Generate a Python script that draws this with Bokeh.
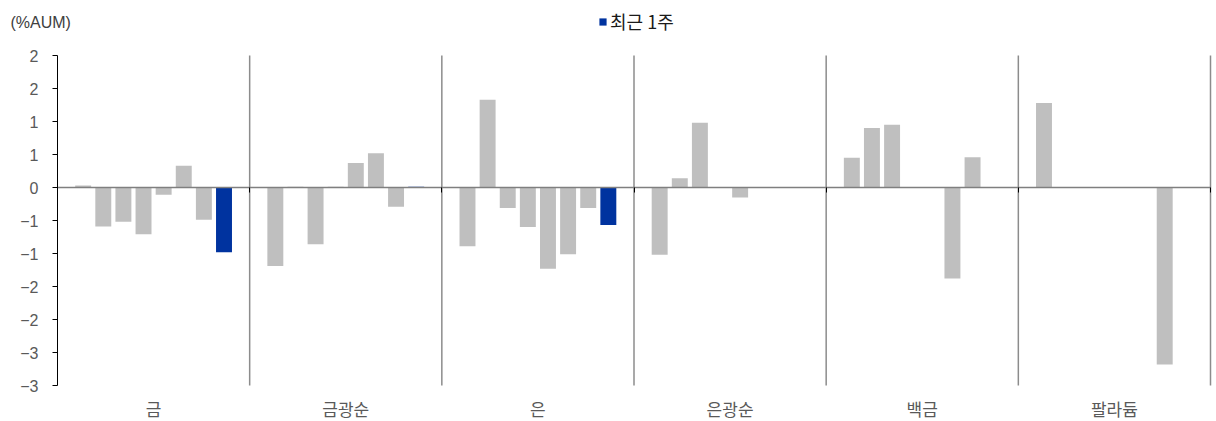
from bokeh.plotting import figure
from bokeh.models import (FixedTicker, LinearAxis, Range1d, Legend, LegendItem,
                          Label, ColumnDataSource)
from bokeh.embed import file_html
from bokeh.resources import INLINE

# ---- data ----
groups = ["금", "금광순", "은", "은광순", "백금", "팔라듐"]
series_names = ["8주 전", "7주 전", "6주 전", "5주 전", "4주 전", "3주 전", "2주 전", "최근 1주"]
week8 = [0.03, -1.19, -0.89, -1.02, 0.45, 1.28]
week7 = [-0.59, 0.01, 1.33, 0.14, 0.90, 0.0]
week6 = [-0.52, -0.86, -0.31, 0.98, 0.95, 0.0]
week5 = [-0.71, 0.01, -0.60, 0.0, 0.0, 0.0]
week4 = [-0.11, 0.37, -1.23, -0.15, 0.0, 0.0]
week3 = [0.33, 0.52, -1.01, 0.0, -1.38, 0.0]
week2 = [-0.49, -0.29, -0.31, 0.0, 0.46, -2.68]
week1 = [-0.98, 0.01, -0.57, 0.0, 0.0, 0.0]
series_values = [week8, week7, week6, week5, week4, week3, week2, week1]
y_min, y_max = -3.0, 2.0
y_tick_values = [-3.0, -2.5, -2.0, -1.5, -1.0, -0.5, 0.0, 0.5, 1.0, 1.5, 2.0]
y_tick_labels = ["−3", "−3", "−2", "−2", "−1", "−1", "0", "1", "1", "2", "2"]
y_unit = "(%AUM)"

GRAY = "#BFBFBF"
BLUE = "#00339F"
TXT = "#595959"

# ---- layout constants (pixels) ----
W, H = 1216, 421
AX_LEFT, AX_RIGHT = 57, 1210      # plot area horizontal extent
AX_TOP, AX_BOTTOM = 55, 385       # plot area vertical extent

ng = len(groups)
px_per_x = (AX_RIGHT - AX_LEFT) / ng
px_per_y = (AX_BOTTOM - AX_TOP) / (y_max - y_min)
x_start = -AX_LEFT / px_per_x
x_end = ng + (W - AX_RIGHT) / px_per_x
y_end = y_max + AX_TOP / px_per_y
y_start = y_min - (H - AX_BOTTOM) / px_per_y

p = figure(width=W, height=H, output_backend="svg", toolbar_location=None,
           x_range=Range1d(x_start, x_end), y_range=Range1d(y_start, y_end),
           min_border=0, x_axis_location=None, y_axis_location=None)
p.outline_line_color = None
p.background_fill_color = "white"
p.border_fill_color = "white"
p.grid.visible = False

# ---- bars ----
n = len(series_values)
step = 0.1047
bar_w = 0.083
renderers = []
for k, vals in enumerate(series_values):
    xs = [g + 0.5 + (k - (n - 1) / 2) * step for g in range(ng)]
    src = ColumnDataSource(dict(x=xs, top=vals))
    color = BLUE if k == n - 1 else GRAY
    r = p.vbar(x="x", top="top", bottom=0, width=bar_w, source=src,
               fill_color=color, line_color=None)
    renderers.append(r)

# ---- group separators ----
sep_x = list(range(1, ng + 1))
p.segment(x0=sep_x, x1=sep_x, y0=[y_min] * ng, y1=[y_max] * ng,
          line_color="#8C8C8C", line_width=1.5)

# ---- bottom category axis (labels only), fixed at the plot-area bottom ----
cat_axis = LinearAxis(fixed_location=y_min,
                      ticker=FixedTicker(ticks=[g + 0.5 for g in range(ng)]))
cat_axis.major_label_overrides = {g + 0.5: name for g, name in enumerate(groups)}
cat_axis.axis_line_color = None
cat_axis.major_tick_line_color = None
cat_axis.minor_tick_line_color = None
cat_axis.major_label_standoff = 4
cat_axis.major_label_text_font = "Noto Sans CJK KR"
cat_axis.major_label_text_font_size = "17px"
cat_axis.major_label_text_color = TXT
p.add_layout(cat_axis, "below")

# ---- zero axis line with boundary ticks ----
zero_axis = LinearAxis(fixed_location=0, bounds=(0, ng),
                       ticker=FixedTicker(ticks=list(range(0, ng + 1))))
zero_axis.axis_line_color = "#7F7F7F"
zero_axis.axis_line_width = 1.5
zero_axis.major_tick_line_color = "black"
zero_axis.major_tick_out = 5
zero_axis.major_tick_in = 0
zero_axis.minor_tick_line_color = None
zero_axis.major_label_text_font_size = "0px"
zero_axis.major_label_text_alpha = 0
p.add_layout(zero_axis, "below")

# ---- y axis at x=0 ----
yax = LinearAxis(fixed_location=0, bounds=(y_min, y_max),
                 ticker=FixedTicker(ticks=y_tick_values))
yax.major_label_overrides = {v: l for v, l in zip(y_tick_values, y_tick_labels)}
yax.axis_line_color = "black"
yax.major_tick_line_color = "black"
yax.major_tick_out = 5
yax.major_tick_in = 0
yax.minor_tick_line_color = None
yax.major_label_standoff = 14
yax.major_label_text_font = "Liberation Sans"
yax.major_label_text_font_size = "16px"
yax.major_label_text_color = TXT
p.add_layout(yax, "left")

# ---- unit label ----
p.add_layout(Label(x=0, y=y_max, x_offset=-47, y_offset=33,
                   text=y_unit, text_font="Liberation Sans", text_font_size="16px",
                   text_color="#404040", text_baseline="middle"))

legend = Legend(items=[LegendItem(label=series_names[-1], renderers=[renderers[-1]])],
                location=(598, 387), orientation="horizontal",
                label_text_font="Noto Sans CJK KR", label_text_font_size="18px",
                label_text_color="#1A1A1A", glyph_width=9, glyph_height=9,
                label_standoff=3, padding=0, margin=0, border_line_color=None,
                background_fill_alpha=0)
p.add_layout(legend)

open("out.html", "w").write(file_html(p, INLINE))
